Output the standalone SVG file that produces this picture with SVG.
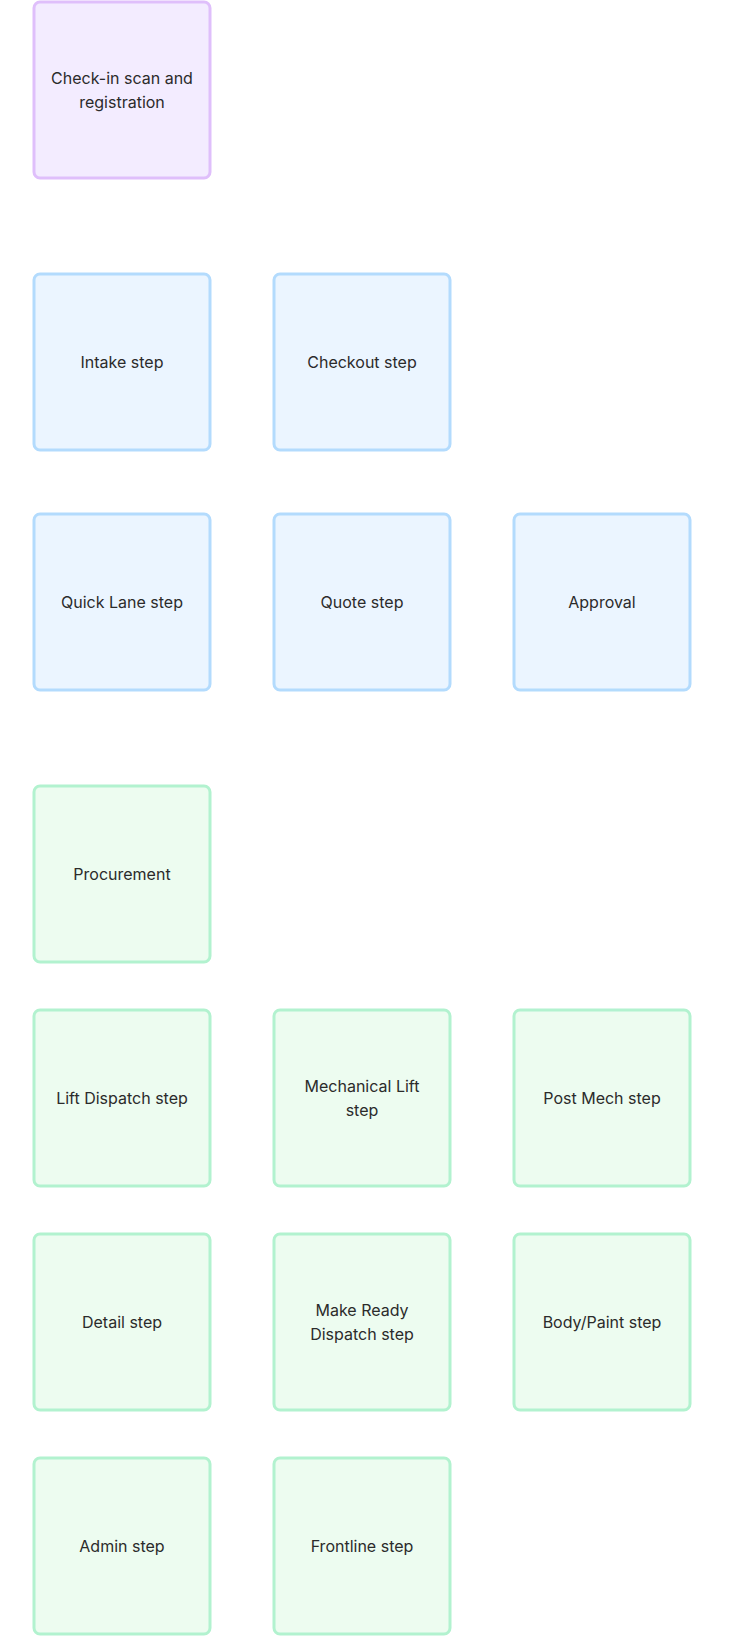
<svg xmlns="http://www.w3.org/2000/svg" width="740" height="1636" viewBox="0 0 740 1636">
<style>
rect{stroke-width:3}
.p rect{fill:#f3ecff;stroke:#dfbffb}
.b rect{fill:#ebf5ff;stroke:#b3dbfd}
.g rect{fill:#edfcf0;stroke:#b2f2cf}
text{font-family:Inter,"Liberation Sans",sans-serif;font-size:16px;fill:#2b2b2b;text-anchor:middle}
</style>
<rect width="740" height="1636" fill="#ffffff" style="stroke:none"/>
<g id="connectors"></g>
<g id="n1" class="p"><rect x="34" y="2" width="176" height="176" rx="6"/><text x="122" y="84">Check-in scan and</text><text x="122" y="108">registration</text></g>
<g id="n2" class="b"><rect x="34" y="274" width="176" height="176" rx="6"/><text x="122" y="368">Intake step</text></g>
<g id="n3" class="b"><rect x="274" y="274" width="176" height="176" rx="6"/><text x="362" y="368">Checkout step</text></g>
<g id="n4" class="b"><rect x="34" y="514" width="176" height="176" rx="6"/><text x="122" y="608">Quick Lane step</text></g>
<g id="n5" class="b"><rect x="274" y="514" width="176" height="176" rx="6"/><text x="362" y="608">Quote step</text></g>
<g id="n6" class="b"><rect x="514" y="514" width="176" height="176" rx="6"/><text x="602" y="608">Approval</text></g>
<g id="n7" class="g"><rect x="34" y="786" width="176" height="176" rx="6"/><text x="122" y="880">Procurement</text></g>
<g id="n8" class="g"><rect x="34" y="1010" width="176" height="176" rx="6"/><text x="122" y="1104">Lift Dispatch step</text></g>
<g id="n9" class="g"><rect x="274" y="1010" width="176" height="176" rx="6"/><text x="362" y="1092">Mechanical Lift</text><text x="362" y="1116">step</text></g>
<g id="n10" class="g"><rect x="514" y="1010" width="176" height="176" rx="6"/><text x="602" y="1104">Post Mech step</text></g>
<g id="n11" class="g"><rect x="34" y="1234" width="176" height="176" rx="6"/><text x="122" y="1328">Detail step</text></g>
<g id="n12" class="g"><rect x="274" y="1234" width="176" height="176" rx="6"/><text x="362" y="1316">Make Ready</text><text x="362" y="1340">Dispatch step</text></g>
<g id="n13" class="g"><rect x="514" y="1234" width="176" height="176" rx="6"/><text x="602" y="1328">Body/Paint step</text></g>
<g id="n14" class="g"><rect x="34" y="1458" width="176" height="176" rx="6"/><text x="122" y="1552">Admin step</text></g>
<g id="n15" class="g"><rect x="274" y="1458" width="176" height="176" rx="6"/><text x="362" y="1552">Frontline step</text></g>
</svg>
